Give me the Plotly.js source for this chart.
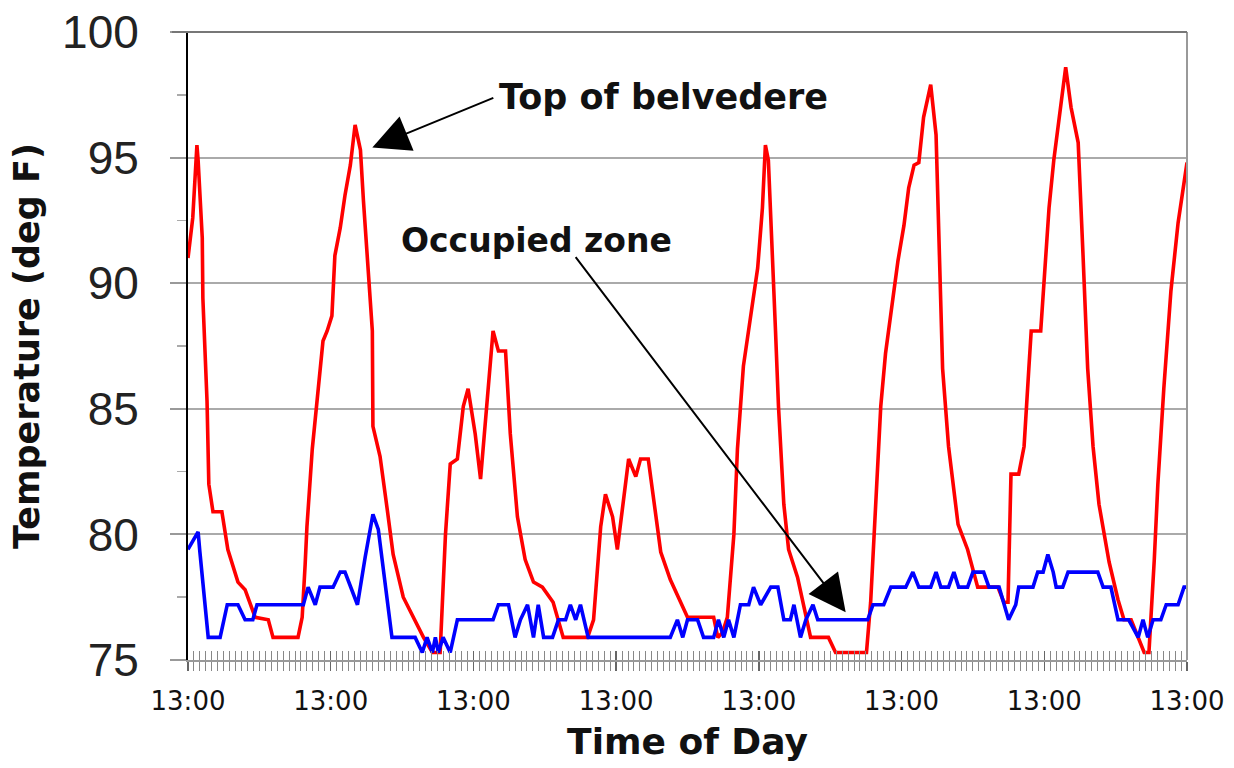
<!DOCTYPE html>
<html>
<head>
<meta charset="utf-8">
<script src="https://cdn.plot.ly/plotly-3.0.1.min.js"></script>
<style>html,body{margin:0;padding:0;background:#fff;}#chart{width:1234px;height:768px;}</style>
</head>
<body>
<div id="chart"></div>
<script>
// Hours elapsed since the first 13:00 reading, and temperatures (deg F)
const belvedereHours = [0,0.8,1.5,1.7,2.4,2.5,3.2,3.5,4.2,5.7,6.7,8.4,9.6,11.3,13.5,14.3,18.5,19.2,19.7,20.0,20.9,21.7,22.2,22.7,23.4,24.2,24.7,25.6,26.4,27.3,28.1,29.0,29.5,30.3,31.0,31.1,32.3,33.5,34.5,36.2,37.9,39.6,41.1,42.4,43.3,44.1,45.3,46.3,47.1,48.3,49.2,50.3,51.3,52.2,53.4,54.2,55.4,56.7,58.1,59.6,61.4,63.1,67.2,68.2,69.4,70.2,71.4,72.2,73.2,74.1,75.3,76.1,77.4,78.3,79.5,81.1,82.8,84.0,88.4,89.1,89.9,90.7,91.8,92.4,93.4,94.6,95.8,96.6,97.1,97.6,98.3,98.8,99.3,100.2,101.0,102.5,104.7,107.7,108.9,114.1,114.8,115.7,116.5,117.3,118.5,119.4,120.4,121.2,122.1,122.9,123.7,124.9,125.8,126.3,126.9,127.9,129.5,131.1,132.8,136.2,137.2,137.9,138.4,139.7,140.6,141.4,141.8,143.4,143.9,144.8,145.6,146.8,147.6,148.5,149.7,150.5,151.3,152.2,153.2,154.9,156.4,157.4,158.6,160.8,161.6,162.5,163.1,164.1,165.3,166.5,168.0];
const belvedereTemp = [91.0,92.6,95.5,94.9,91.8,89.4,85.3,82.0,80.9,80.9,79.4,78.1,77.8,76.7,76.6,75.9,75.9,76.7,78.8,80.3,83.4,85.3,86.5,87.7,88.1,88.7,91.1,92.2,93.5,94.7,96.3,95.3,93.3,90.5,88.1,84.3,83.1,81.0,79.2,77.5,76.7,75.9,75.3,75.3,80.0,82.8,83.0,85.1,85.8,84.0,82.2,85.4,88.1,87.3,87.3,84.0,80.7,79.0,78.1,77.9,77.3,75.9,75.9,76.6,80.3,81.6,80.7,79.4,81.4,83.0,82.3,83.0,83.0,81.4,79.3,78.2,77.3,76.7,76.7,75.9,76.1,76.7,80.0,83.4,86.7,88.7,90.6,93.0,95.5,94.9,91.2,88.1,85.1,81.2,79.4,78.3,75.9,75.9,75.3,75.3,77.3,81.2,85.1,87.2,89.4,90.9,92.3,93.8,94.7,94.8,96.6,97.9,95.9,91.2,86.6,83.5,80.4,79.4,77.9,77.9,77.3,77.3,82.4,82.4,83.5,86.6,88.1,88.1,89.7,93.0,94.9,97.3,98.6,97.0,95.6,91.2,86.6,83.5,81.2,78.9,77.4,76.6,76.6,75.3,75.3,79.0,82.0,85.8,89.7,92.4,94.8];

const occupiedHours = [0,1.7,2.0,3.4,5.4,6.6,8.4,9.6,10.9,11.6,19.4,20.2,21.4,22.2,24.4,25.6,26.4,28.5,29.8,31.1,32.0,34.3,38.2,39.4,40.2,41.1,41.6,42.1,42.9,44.1,45.3,51.3,52.2,53.9,55.0,55.9,57.1,58.1,58.9,59.8,61.3,62.3,63.5,64.3,65.2,66.0,67.3,81.1,82.3,83.2,84.0,85.7,86.7,88.4,89.2,90.1,90.9,91.8,92.9,94.3,95.1,96.3,98.0,99.2,100.2,101.3,101.9,103.0,103.9,105.1,105.9,114.3,115.2,117.0,118.2,120.7,121.9,122.9,124.9,125.8,126.6,127.9,128.8,129.6,131.1,132.0,133.8,134.7,136.4,137.2,138.0,139.2,139.7,142.1,142.9,143.8,144.6,145.5,146.0,147.1,148.0,153.0,153.9,155.2,156.4,158.2,159.8,160.6,161.4,162.3,163.6,164.5,166.5,167.5,168.0];
const occupiedTemp = [79.4,80.1,79.3,75.9,75.9,77.2,77.2,76.6,76.6,77.2,77.2,77.9,77.2,77.9,77.9,78.5,78.5,77.2,79.1,80.8,80.2,75.9,75.9,75.3,75.9,75.3,75.9,75.3,75.9,75.3,76.6,76.6,77.2,77.2,75.9,76.6,77.2,75.9,77.2,75.9,75.9,76.6,76.6,77.2,76.6,77.2,75.9,75.9,76.6,75.9,76.6,76.6,75.9,75.9,76.6,75.9,76.6,75.9,77.2,77.2,77.9,77.2,77.9,77.9,76.6,76.6,77.2,75.9,76.6,77.2,76.6,76.6,77.2,77.2,77.9,77.9,78.5,77.9,77.9,78.5,77.9,77.9,78.5,77.9,77.9,78.5,78.5,77.9,77.9,77.2,76.6,77.2,77.9,77.9,78.5,78.5,79.2,78.5,77.9,77.9,78.5,78.5,77.9,77.9,76.6,76.6,75.9,76.6,75.9,76.6,76.6,77.2,77.2,77.9,77.9];

const dayTickHours = [0,24,48,72,96,120,144,168];
const dayTickLabels = ["13:00","13:00","13:00","13:00","13:00","13:00","13:00","13:00"];
const tempTicks = [75,80,85,90,95,100];
const seriesNames = ["Top of belvedere","Occupied zone"];

const traces = [
  {x: belvedereHours, y: belvedereTemp, name: seriesNames[0], type: 'scatter', mode: 'lines',
   line: {color: '#ff0000', width: 3.6}},
  {x: occupiedHours, y: occupiedTemp, name: seriesNames[1], type: 'scatter', mode: 'lines',
   line: {color: '#0000ff', width: 3.6}},
  // invisible trace to activate the overlay axis used for inward hourly ticks
  {x: [0,168], y: [75,75], xaxis: 'x2', mode: 'lines', line: {width: 0}, hoverinfo: 'skip', showlegend: false}
];

const layout = {
  width: 1234, height: 768,
  margin: {l: 188, r: 47, t: 32, b: 108},
  paper_bgcolor: '#ffffff', plot_bgcolor: '#ffffff',
  showlegend: false,
  xaxis: {
    range: [0, 168], tickvals: dayTickHours, ticktext: dayTickLabels,
    ticks: 'outside', ticklen: 9, tickwidth: 1.5, tickcolor: '#666',
    minor: {dtick: 1, ticks: 'outside', ticklen: 9, tickwidth: 1, tickcolor: '#888', showgrid: false},
    showgrid: false, zeroline: false,
    showline: true, linecolor: '#999', linewidth: 2,
    tickfont: {family: 'DejaVu Sans', size: 26, color: '#111'},
    ticklabelstandoff: 8,
    title: {text: 'Time of Day', font: {family: 'DejaVu Sans', size: 36, color: '#111', weight: 'bold'}, standoff: 14}
  },
  xaxis2: {
    overlaying: 'x', range: [0, 168], tickvals: dayTickHours, showticklabels: false,
    ticks: 'inside', ticklen: 9, tickwidth: 1.5, tickcolor: '#666',
    minor: {dtick: 1, ticks: 'inside', ticklen: 9, tickwidth: 1, tickcolor: '#888', showgrid: false},
    showgrid: false, zeroline: false, showline: false
  },
  yaxis: {
    range: [75, 100], tickvals: tempTicks,
    ticks: 'outside', ticklen: 16, tickwidth: 2, tickcolor: '#999',
    minor: {dtick: 2.5, ticks: 'outside', ticklen: 9, tickwidth: 1.5, tickcolor: '#aaa', showgrid: false},
    showgrid: true, gridcolor: '#aaaaaa', gridwidth: 2,
    zeroline: false, showline: true, linecolor: '#000', linewidth: 2,
    tickfont: {family: 'Liberation Sans', size: 46, color: '#222'},
    ticklabelstandoff: 22,
    title: {text: 'Temperature (deg F)', font: {family: 'DejaVu Sans', size: 35, color: '#111', weight: 'bold'}, standoff: 12}
  },
  shapes: [
    {type: 'line', xref: 'paper', yref: 'paper', x0: 1, x1: 1, y0: 0, y1: 1, line: {color: '#999', width: 2}},
    {type: 'line', xref: 'paper', yref: 'paper', x0: -0.016, x1: 1, y0: 1, y1: 1, line: {color: '#777', width: 2}}
  ],
  annotations: [
    {x: 31.0, y: 95.4, xref: 'x', yref: 'y', text: '', showarrow: true,
     axref: 'x', ayref: 'y', ax: 51.6, ay: 97.4,
     arrowhead: 2, arrowsize: 3.7, arrowwidth: 2, arrowcolor: '#000', standoff: 0},
    {xref: 'x', yref: 'y', x: 80.0, y: 97.4, text: seriesNames[0], showarrow: false,
     xanchor: 'center', yanchor: 'middle',
     font: {family: 'DejaVu Sans', size: 35, color: '#111', weight: 'bold'}},
    {x: 110.6, y: 76.9, xref: 'x', yref: 'y', text: '', showarrow: true,
     axref: 'x', ayref: 'y', ax: 65.0, ay: 91.1,
     arrowhead: 2, arrowsize: 3.7, arrowwidth: 2, arrowcolor: '#000', standoff: 0},
    {xref: 'x', yref: 'y', x: 58.6, y: 91.7, text: seriesNames[1], showarrow: false,
     xanchor: 'center', yanchor: 'middle',
     font: {family: 'DejaVu Sans', size: 33, color: '#111', weight: 'bold'}}
  ]
};

Plotly.newPlot('chart', traces, layout, {staticPlot: true, displayModeBar: false});
</script>
</body>
</html>
